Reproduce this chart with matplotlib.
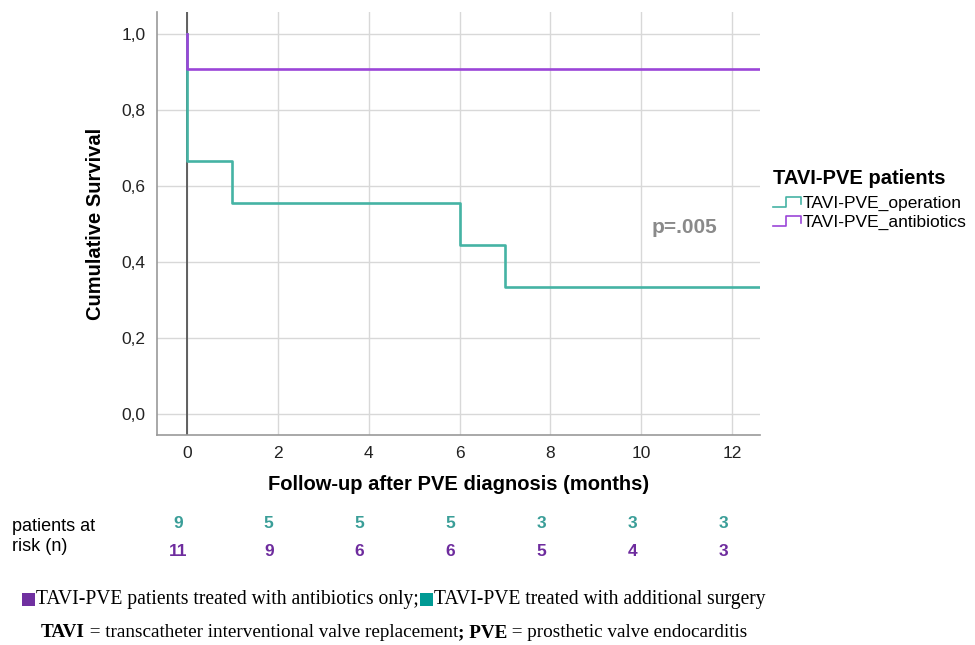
import matplotlib.pyplot as plt
import numpy as np
from matplotlib.legend_handler import HandlerBase
from matplotlib.lines import Line2D
from matplotlib.patches import Rectangle
from matplotlib.transforms import blended_transform_factory

plt.rcParams['font.family'] = ['Liberation Sans', 'DejaVu Sans']

# survival curves (months, cumulative survival)
op_t = [0, 0, 1, 6, 7, 12.6]
op_s = [1.0, 0.667, 0.556, 0.444, 0.333, 0.333]
ab_t = [0, 0, 12.6]
ab_s = [1.0, 0.909, 0.909]

# patients at risk
risk_t = [0, 2, 4, 6, 8, 10, 12]
risk_op = [9, 5, 5, 5, 3, 3, 3]
risk_ab = [11, 9, 6, 6, 5, 4, 3]

c_op = '#45b3a4'
c_ab = '#9b45d8'
c_op_txt = '#3a9e98'
c_ab_txt = '#6e2c9e'


class StepHandler(HandlerBase):
    # little step glyph like the SPSS legend
    def create_artists(self, legend, orig, xd, yd, w, h, fontsize, trans):
        xs = np.array([0, 0.45, 0.45, 1.0, 1.0]) * w - xd
        ys = np.array([0.1, 0.1, 0.9, 0.9, 0.3]) * h - yd
        ln = Line2D(xs, ys, color=orig.get_color(), lw=1.2, transform=trans)
        return [ln]


fig = plt.figure(figsize=(9.75, 6.45), dpi=100)
ax = fig.add_axes([0.161, 0.326, 0.618, 0.655])

ax.grid(True, color='#d8d8d8', lw=1)
ax.set_axisbelow(True)
ax.axvline(0, color='#555555', lw=1.3, zorder=1)

l1, = ax.step(op_t, op_s, where='post', color=c_op, lw=1.9, zorder=3)
l2, = ax.step(ab_t, ab_s, where='post', color=c_ab, lw=1.9, zorder=4)

ax.set_xlim(-0.66, 12.6)
ax.set_ylim(-0.055, 1.058)
ax.set_xticks(range(0, 13, 2))
yt = np.arange(0, 1.01, 0.2)
ax.set_yticks(yt)
ax.set_yticklabels([f'{v:.1f}'.replace('.', ',') for v in yt])
ax.tick_params(length=0, labelsize=12.5, pad=8, colors='#222222')
for s in ['top', 'right']:
    ax.spines[s].set_visible(False)
for s in ['left', 'bottom']:
    ax.spines[s].set_color('#999999')
    ax.spines[s].set_linewidth(1.2)

ax.set_xlabel('Follow-up after PVE diagnosis (months)', fontsize=14.5,
              fontweight='bold', labelpad=10)
ax.set_ylabel('Cumulative Survival', fontsize=14.5, fontweight='bold', labelpad=12)

ax.text(10.95, 0.49, 'p=.005', color='#8a8a8a', fontsize=15, fontweight='bold',
        ha='center', va='center')

leg = fig.legend([l1, l2], ['TAVI-PVE_operation', 'TAVI-PVE_antibiotics'],
                 handler_map={Line2D: StepHandler()},
                 loc='upper left', bbox_to_anchor=(0.784, 0.752), frameon=False,
                 title='TAVI-PVE patients', fontsize=12.5, handlelength=1.6,
                 handletextpad=0.1, labelspacing=0.2, borderpad=0)
leg.get_title().set_fontweight('bold')
leg.get_title().set_fontsize(14.5)
leg._legend_box.align = 'left'
leg._legend_box.sep = 6

# risk table
fig.text(0.012, 0.168, 'patients at\nrisk (n)', fontsize=13, va='center',
         ha='left', linespacing=1.25)
tr = blended_transform_factory(ax.transData, fig.transFigure)
for row, vals, col in [(0.189, risk_op, c_op_txt), (0.145, risk_ab, c_ab_txt)]:
    for t, v in zip(risk_t, vals):
        ax.text(t - 0.2, row, str(v), transform=tr, color=col, fontsize=12.5,
                fontweight='bold', ha='center', va='center')

# footnote
serif = ['Liberation Serif', 'DejaVu Serif']
fig.canvas.draw()
r = fig.canvas.get_renderer()


def put(x, y, s, w='normal', fs=14.1):
    tt = fig.text(x, y, s, family=serif, fontsize=fs, fontweight=w, va='center')
    return x + tt.get_window_extent(renderer=r).width / fig.bbox.width


def square(x, y, col):
    fig.patches.append(Rectangle((x, y - 0.0105), 0.0135, 0.021,
                                 transform=fig.transFigure, facecolor=col,
                                 edgecolor='none'))
    return x + 0.0145


x = square(0.0225, 0.0705, '#7030a0')
x = put(x, 0.0705, 'TAVI-PVE patients treated with antibiotics only;')
x = square(x + 0.001, 0.0705, '#009a94')
put(x, 0.0705, 'TAVI-PVE treated with additional surgery')

x = 0.042
for s, w in [('TAVI', 'bold'), (' = transcatheter interventional valve replacement', 'normal'),
             ('; PVE', 'bold'), (' = prosthetic valve endocarditis', 'normal')]:
    x = put(x, 0.019, s, w, fs=13.8)

fig.savefig('out.png', dpi=100)
